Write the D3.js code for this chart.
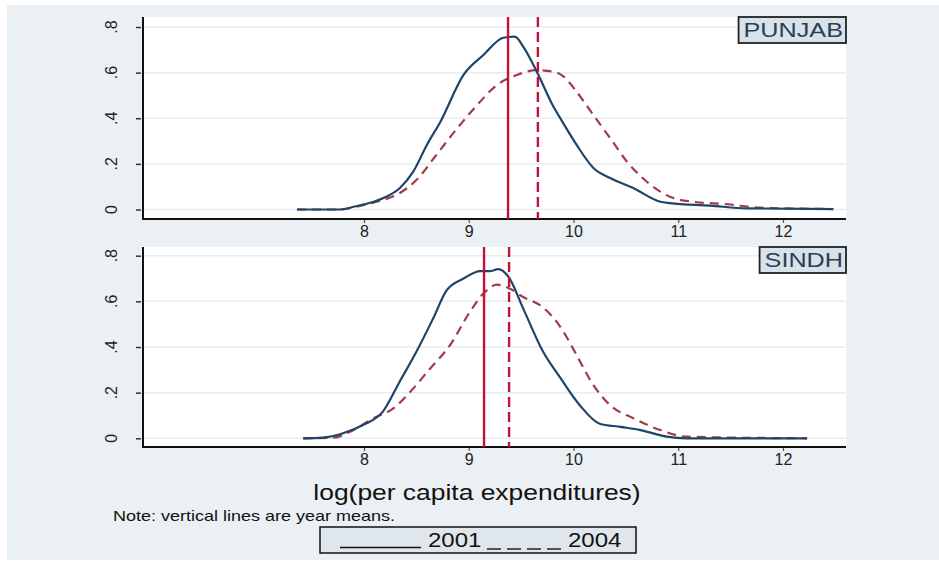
<!DOCTYPE html>
<html>
<head>
<meta charset="utf-8">
<script src="https://cdn.jsdelivr.net/npm/d3@7"></script>
<style>
  body { margin: 0; background: #fff; }
  svg { display: block; font-family: "Liberation Sans", Arial, sans-serif; }
</style>
</head>
<body>
<script>
// density estimates: [log pc expenditure, density]
let punjab2001 = [[7.36,0],[7.77,0],[7.9,0.012],[8.18,0.049],[8.34,0.093],[8.47,0.166],[8.6,0.283],[8.73,0.385],[8.95,0.59],[9.14,0.677],[9.33,0.753],[9.44,0.758],[9.52,0.714],[9.65,0.604],[9.8,0.458],[9.9,0.38],[10.03,0.283],[10.19,0.182],[10.35,0.138],[10.57,0.094],[10.83,0.034],[10.92,0.028],[11.3,0.017],[11.66,0.005],[12.48,0.002]]
let punjab2004 = [[7.36,0],[7.77,0],[7.93,0.012],[8.12,0.034],[8.31,0.064],[8.5,0.129],[8.69,0.239],[8.89,0.356],[9.08,0.458],[9.27,0.546],[9.46,0.59],[9.65,0.611],[9.81,0.604],[9.9,0.585],[10.03,0.516],[10.19,0.414],[10.35,0.313],[10.51,0.21],[10.66,0.138],[10.92,0.056],[11.14,0.034],[11.47,0.023],[11.78,0.008],[12.48,0.002]]
let sindh2001 = [[7.42,0],[7.61,0.003],[7.8,0.022],[7.99,0.058],[8.18,0.117],[8.34,0.248],[8.5,0.379],[8.66,0.525],[8.79,0.649],[8.95,0.7],[9.11,0.732],[9.2,0.732],[9.28,0.741],[9.38,0.707],[9.52,0.568],[9.71,0.379],[9.87,0.268],[10.06,0.145],[10.25,0.064],[10.45,0.05],[10.64,0.036],[10.89,0.007],[11.08,0],[12.23,0]]
let sindh2004 = [[7.42,0],[7.71,0.003],[7.9,0.036],[8.09,0.088],[8.28,0.131],[8.44,0.203],[8.63,0.305],[8.82,0.407],[9.01,0.553],[9.14,0.634],[9.27,0.673],[9.39,0.656],[9.52,0.619],[9.68,0.583],[9.84,0.51],[9.9,0.47],[10.03,0.364],[10.19,0.233],[10.35,0.145],[10.57,0.088],[10.83,0.036],[11.08,0.007],[12.23,0]]

let panelNames = ['PUNJAB', 'SINDH']
let means2001 = [9.375, 9.146]
let means2004 = [9.66, 9.385]
let xTicks = [8, 9, 10, 11, 12]
let yTicks = [0, 0.2, 0.4, 0.6, 0.8]
let legendLabels = ['2001', '2004']

let W = 939, H = 565
let bg = '#eaf0f3'
let navy = '#1f4468'
let maroon = '#a23a4c'
let red = '#c3123a'
let stretch = 1.2 // the source graph text is a bit wide

let svg = d3.select('body').append('svg')
    .attr('width', W)
    .attr('height', H)

svg.append('rect').attr('x', 7).attr('y', 5).attr('width', W - 7).attr('height', 555).attr('fill', bg)

let xScale = d3.scaleLinear().domain([8, 12]).range([364, 783])
let plotLeft = 143, plotRight = 846

let panels = [
    { name: panelNames[0], top: 17, bottom: 219, y0: 209.5, y8: 27, d1: punjab2001, d4: punjab2004, m1: means2001[0], m4: means2004[0] },
    { name: panelNames[1], top: 247, bottom: 447, y0: 438.3, y8: 255.7, d1: sindh2001, d4: sindh2004, m1: means2001[1], m4: means2004[1] }
]

let fmt = function (d) { return d === 0 ? '0' : d3.format('.1f')(d).replace('0.', '.') }

// widen a text node horizontally, keeping its anchor
function widen(sel) {
    let w = sel.node().getComputedTextLength()
    sel.attr('textLength', w * stretch).attr('lengthAdjust', 'spacingAndGlyphs')
    return w * stretch
}

panels.forEach(function (p) {
    let yScale = d3.scaleLinear().domain([0, 0.8]).range([p.y0, p.y8])
    let g = svg.append('g')

    g.append('rect')
        .attr('x', plotLeft).attr('y', p.top)
        .attr('width', plotRight - plotLeft).attr('height', p.bottom - p.top)
        .attr('fill', '#fff')

    // gridlines
    g.selectAll('.grid')
        .data(yTicks)
        .enter().append('line')
        .attr('x1', plotLeft).attr('x2', plotRight)
        .attr('y1', function (d) { return yScale(d) })
        .attr('y2', function (d) { return yScale(d) })
        .attr('stroke', '#e6edf1')
        .attr('stroke-width', 1.5)

    // y axis
    let yAxis = g.append('g')
        .attr('transform', 'translate(' + (plotLeft - 2) + ',0)')
        .call(d3.axisLeft(yScale).tickValues(yTicks).tickSize(5).tickPadding(0).tickFormat(''))
    yAxis.select('.domain').remove()
    yAxis.selectAll('line').attr('stroke', '#333').attr('stroke-width', 1.5)

    g.selectAll('.ylab')
        .data(yTicks)
        .enter().append('text')
        .attr('transform', function (d) { return 'translate(117,' + yScale(d) + ') rotate(-90)' })
        .attr('text-anchor', 'middle')
        .attr('font-size', 16)
        .attr('fill', '#222')
        .text(fmt)

    // x axis
    let xAxis = g.append('g')
        .attr('transform', 'translate(0,' + p.bottom + ')')
        .call(d3.axisBottom(xScale).tickValues(xTicks).tickSize(4).tickPadding(3).tickFormat(d3.format('d')))
    xAxis.select('.domain').remove()
    xAxis.selectAll('line').attr('stroke', '#555').attr('stroke-width', 1.2)
    xAxis.selectAll('text').attr('font-size', 16).attr('fill', '#222').attr('font-family', '"Liberation Sans", Arial, sans-serif')

    g.append('line')
        .attr('x1', plotLeft).attr('x2', plotRight)
        .attr('y1', p.bottom).attr('y2', p.bottom)
        .attr('stroke', '#111').attr('stroke-width', 2)
    g.append('line')
        .attr('x1', plotLeft).attr('x2', plotLeft)
        .attr('y1', p.top).attr('y2', p.bottom + 1)
        .attr('stroke', '#111').attr('stroke-width', 2)

    let line = d3.line()
        .x(function (d) { return xScale(d[0]) })
        .y(function (d) { return yScale(d[1]) })
        .curve(d3.curveMonotoneX)

    g.append('path')
        .datum(p.d4)
        .attr('d', line)
        .attr('fill', 'none')
        .attr('stroke', maroon)
        .attr('stroke-width', 2.2)
        .attr('stroke-dasharray', '9,6')

    g.append('path')
        .datum(p.d1)
        .attr('d', line)
        .attr('fill', 'none')
        .attr('stroke', navy)
        .attr('stroke-width', 2.2)

    // year means
    g.append('line')
        .attr('x1', xScale(p.m1)).attr('x2', xScale(p.m1))
        .attr('y1', p.top).attr('y2', p.bottom)
        .attr('stroke', red).attr('stroke-width', 2.4)
    g.append('line')
        .attr('x1', xScale(p.m4)).attr('x2', xScale(p.m4))
        .attr('y1', p.top).attr('y2', p.bottom)
        .attr('stroke', red).attr('stroke-width', 2.4)
        .attr('stroke-dasharray', '10,5')

    // panel label
    let lbl = g.append('text')
        .attr('x', plotRight - 3).attr('y', p.top + 20)
        .attr('text-anchor', 'end')
        .attr('font-size', 21)
        .attr('fill', '#2f3e52')
        .text(p.name)
    let lw = widen(lbl)
    g.append('rect')
        .attr('x', plotRight - lw - 8).attr('y', p.top)
        .attr('width', lw + 8).attr('height', 26)
        .attr('fill', '#d7e2ea')
        .attr('stroke', '#222').attr('stroke-width', 1.8)
    lbl.raise()
})

let xTitle = svg.append('text')
    .attr('x', 477).attr('y', 500)
    .attr('text-anchor', 'middle')
    .attr('font-size', 22)
    .attr('fill', '#111')
    .text('log(per capita expenditures)')
widen(xTitle)

let note = svg.append('text')
    .attr('x', 113).attr('y', 521)
    .attr('font-size', 15)
    .attr('fill', '#111')
    .text('Note: vertical lines are year means.')
widen(note)

// legend
let leg = svg.append('g')
leg.append('rect')
    .attr('x', 320).attr('y', 527).attr('width', 316).attr('height', 26)
    .attr('fill', '#dfe7ec')
    .attr('stroke', '#111').attr('stroke-width', 1.5)
leg.append('line')
    .attr('x1', 340).attr('x2', 421).attr('y1', 547.5).attr('y2', 547.5)
    .attr('stroke', '#111').attr('stroke-width', 1.5)
let t1 = leg.append('text')
    .attr('x', 428).attr('y', 547).attr('font-size', 20).attr('fill', '#111')
    .text(legendLabels[0])
widen(t1)
leg.append('line')
    .attr('x1', 487).attr('x2', 564).attr('y1', 549).attr('y2', 549)
    .attr('stroke', '#555').attr('stroke-width', 2)
    .attr('stroke-dasharray', '14,6')
let t2 = leg.append('text')
    .attr('x', 568).attr('y', 547).attr('font-size', 20).attr('fill', '#111')
    .text(legendLabels[1])
widen(t2)
</script>
</body>
</html>
